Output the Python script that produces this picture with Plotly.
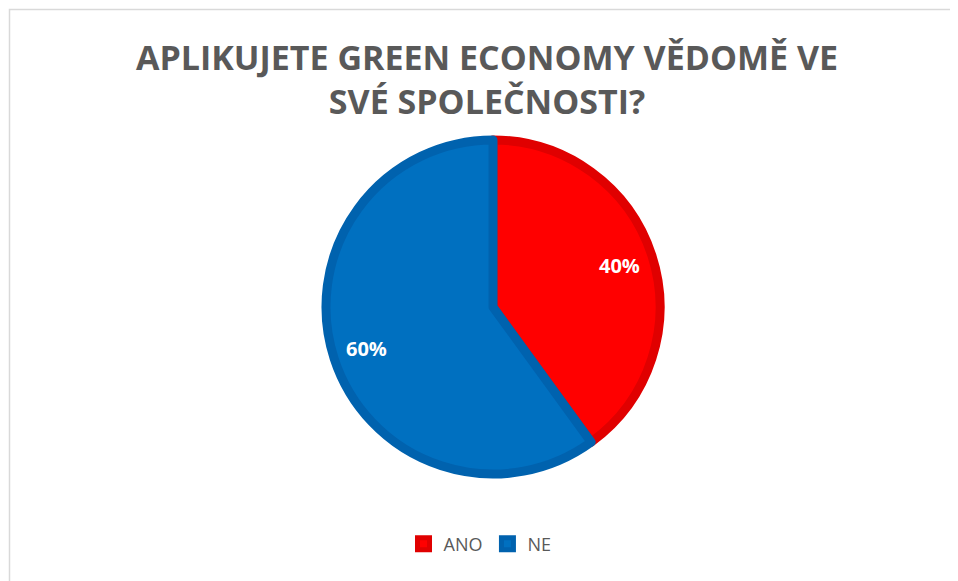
import math
import plotly.graph_objects as go

W, H = 958, 581
OFF = 8  # page body margin offset

labels = ["ANO", "NE"]
values = [40, 60]
fill_colors = ["#FF0000", "#0070C0"]
edge_colors = ["#E00000", "#0062AE"]
title_lines = ["APLIKUJETE GREEN ECONOMY VĚDOMĚ VE", "SVÉ SPOLEČNOSTI?"]

cx, cy, r = 493 - OFF, 307 - OFF, 167


def px(x):
    return x / W


def py(y):
    return 1 - y / H


fig = go.Figure()
fig.add_trace(go.Pie(
    labels=labels,
    values=values,
    sort=False,
    direction="clockwise",
    rotation=0,
    marker=dict(colors=fill_colors, line=dict(color=edge_colors, width=9)),
    textinfo="none",
    domain=dict(x=[px(cx - r), px(cx + r)], y=[py(cy + r), py(cy - r)]),
    hoverinfo="label+percent",
))

# percentage labels placed along each slice's bisector
total = sum(values)
annotations = []
cum = 0
for v in values:
    mid = (cum + v / 2) / total * 2 * math.pi
    cum += v
    lx = cx + 0.78 * (r + 4) * math.sin(mid)
    ly = cy - 0.78 * (r + 4) * math.cos(mid)
    annotations.append(dict(
        x=px(lx), y=py(ly), xref="paper", yref="paper",
        text=f"{round(v / total * 100)}%", showarrow=False,
        xanchor="center", yanchor="middle",
        font=dict(family="Open Sans", size=20, color="white", weight="bold"),
    ))

annotations.append(dict(
    x=px(487 - OFF), y=py(79 - OFF), xref="paper", yref="paper",
    text="<br>".join(title_lines), showarrow=False,
    xanchor="center", yanchor="middle", align="center",
    font=dict(family="Open Sans", size=34, color="#595959", weight="bold"),
))

fig.update_layout(
    width=W, height=H,
    margin=dict(l=0, r=0, t=0, b=0),
    paper_bgcolor="white",
    plot_bgcolor="white",
    annotations=annotations,
    legend=dict(
        orientation="h",
        x=px(480 - OFF), xanchor="center",
        y=py(544 - OFF), yanchor="middle",
        font=dict(family="Open Sans", size=18, color="#595959"),
        itemwidth=30,
        traceorder="normal",
    ),
    shapes=[dict(
        type="rect", xref="paper", yref="paper",
        x0=px(9.5 - OFF), x1=1.05, y0=-0.05, y1=py(9.5 - OFF),
        line=dict(color="#D9D9D9", width=1.5), fillcolor="rgba(0,0,0,0)", layer="below",
    )],
)

fig.write_html("out.html")
